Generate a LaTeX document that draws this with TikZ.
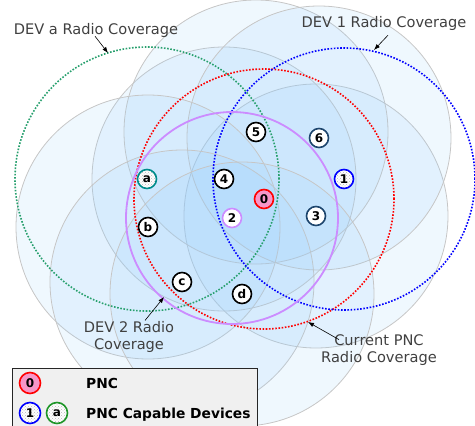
\documentclass[tikz,border=0pt]{standalone}
\usepackage{fontspec}
\setmainfont{DejaVu Sans}
\usetikzlibrary{arrows.meta,patterns,backgrounds}
\definecolor{cov}{RGB}{150,205,250}
\definecolor{lbl}{RGB}{64,64,64}
\definecolor{pnc}{RGB}{247,150,200}
\definecolor{navy}{RGB}{30,70,110}
\definecolor{tealring}{RGB}{0,140,140}
\definecolor{dgreen}{RGB}{30,150,40}
\definecolor{rgreen}{RGB}{40,160,110}
\definecolor{lilac}{RGB}{204,140,255}

\begin{document}
\begin{tikzpicture}[x=1pt,y=-1pt]
\tikzstyle{dev} = [circle, draw, line width=1.6pt, fill=white, inner sep=0pt, minimum size=19pt, font=\bfseries\fontsize{12}{12}\selectfont]
\tikzstyle{capable} = [dev, preaction={fill=white}, pattern=crosshatch dots, pattern color=gray!55]
\tikzstyle{cover} = [draw=gray!45, line width=0.8pt, fill=cov, fill opacity=0.15]
\tikzstyle{reach} = [line width=1.6pt, dash pattern=on 1.6pt off 1.6pt]
\tikzstyle{caption} = [text=lbl, inner sep=1pt, align=center, font=\fontsize{14.6}{16.5}\selectfont]
\tikzstyle{keytext} = [anchor=base west, inner sep=0pt, font=\bfseries\fontsize{13.8}{14}\selectfont]
\tikzstyle{pointer} = [line width=0.6pt, -{Latex[length=6pt,width=4.5pt]}]
\useasboundingbox (0,0) rectangle (475,426);

% devices
\node[dev, draw=red, fill=pnc] (v0) at (264,199) {0};
\node[capable, draw=blue] (v1) at (344,179) {1};
\node[dev, draw=lilac] (v2) at (232,218) {2};
\node[dev, draw=navy] (v3) at (316,216) {3};
\node[dev] (v4) at (224,179) {4};
\node[dev] (v5) at (256,132) {5};
\node[dev, draw=navy] (v6) at (319,138) {6};
\node[capable, draw=tealring] (va) at (147,179) {a};
\node[dev] (vb) at (148,227) {b};
\node[dev] (vc) at (182,282) {c};
\node[dev] (vd) at (242,294) {d};

% coverage areas
\begin{pgfonlayer}{background}
\begin{scope}
\clip (0,0) rectangle (475,426);
\foreach \d in {v3,v4,v5,v6,vb,vc,vd}
  \draw[cover] (\d) circle [radius=132pt];
\draw[reach, rgreen] (va) circle [radius=132pt];
\draw[reach, red] (v0) circle [radius=130pt];
\draw[reach, blue] (v1) circle [radius=131pt];
\draw[line width=1.8pt, lilac] (v2) circle [radius=106pt];
\end{scope}
\end{pgfonlayer}

% captions
\node[caption, anchor=base] (capa) at (96,34) {DEV a Radio Coverage};
\node[caption, anchor=base] (cap1) at (384,27) {DEV 1 Radio Coverage};
\node[caption] (cap2) at (129,337) {DEV 2 Radio\\Coverage};
\node[caption] (cap0) at (379,350) {Current PNC\\Radio Coverage};
\coordinate (ta) at (108,53);
\coordinate (t1) at (374,50);
\coordinate (t2) at (164,297);
\coordinate (t0) at (308,322);
\draw[pointer] ([xshift=-1pt,yshift=2pt]capa.south) -- (ta);
\draw[pointer] ([xshift=4pt,yshift=-4pt]cap1.south) -- (t1);
\draw[pointer] ([xshift=16pt]cap2.north) -- (t2);
\draw[pointer] ([xshift=-40pt,yshift=-6pt]cap0.north) -- (t0);

% legend
\node[draw=gray!30!black, fill=gray!12, minimum width=245pt, minimum height=62pt, inner sep=0pt, anchor=north west] (key) at (12,368) {};
\node[dev, draw=red, fill=pnc, minimum size=21pt] (l0) at (30,383) {0};
\node[capable, draw=blue, minimum size=21pt] (l1) at (30,413) {1};
\node[capable, draw=dgreen, minimum size=21pt] (la) at (57,413) {a};
\node[keytext] (k0) at (86,388) {PNC};
\node[keytext] (k1) at (86,418) {PNC Capable Devices};
\end{tikzpicture}
\end{document}
